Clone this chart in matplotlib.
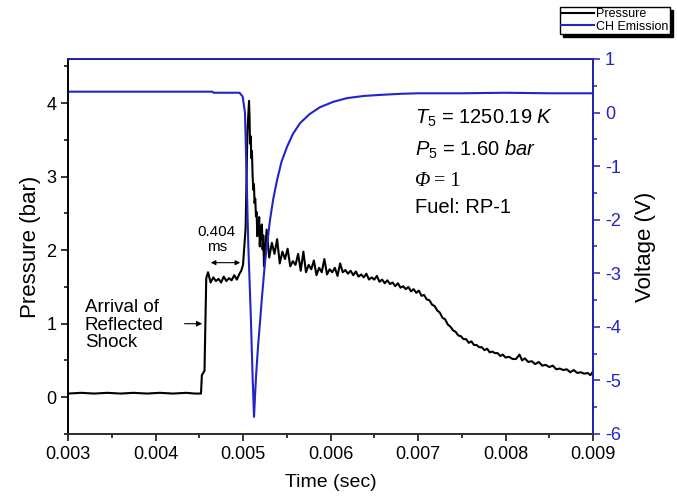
import matplotlib
matplotlib.use('Agg')
import matplotlib.pyplot as plt
from matplotlib.ticker import MultipleLocator

plt.rcParams['font.family'] = 'Liberation Sans'
plt.rcParams['mathtext.fontset'] = 'custom'
plt.rcParams['mathtext.rm'] = 'Liberation Sans'
plt.rcParams['mathtext.it'] = 'Liberation Sans:italic'
plt.rcParams['axes.unicode_minus'] = False

# pressure trace (sec, bar)
t_p = [0.00300, 0.00315, 0.00330, 0.00345, 0.00360, 0.00375, 0.00390, 0.00405,
       0.00420, 0.00435, 0.00445, 0.00452, 0.00453, 0.00456, 0.00457, 0.00458,
       0.00460, 0.00463, 0.00466, 0.00469, 0.00472, 0.00475, 0.00478, 0.00481,
       0.00484, 0.00487, 0.00490, 0.00493, 0.00496, 0.00498, 0.00500, 0.00503,
       0.00505,
       0.005069, 0.005075, 0.005080, 0.005088, 0.005095, 0.005102, 0.005110, 0.005118,
       0.005125, 0.005132, 0.005140, 0.005148, 0.005156, 0.005163, 0.005170, 0.005178,
       0.005185, 0.005192, 0.005200, 0.005208, 0.005216, 0.005224, 0.005232, 0.005240,
       0.005270, 0.005300, 0.005330, 0.005360, 0.005390, 0.005420, 0.005450, 0.005480,
       0.005510, 0.005540, 0.005570, 0.005600, 0.005630, 0.005660, 0.005690, 0.005720,
       0.005750, 0.005780, 0.005810, 0.005840, 0.005870, 0.005900, 0.005930, 0.005960,
       0.005990, 0.006020, 0.006050, 0.006080, 0.006110, 0.006140, 0.006170, 0.006200,
       0.006230, 0.006260, 0.006290, 0.006320, 0.006350, 0.006380, 0.006410, 0.006440,
       0.006470, 0.006500, 0.006530, 0.006560, 0.006590, 0.006620, 0.006650, 0.006680,
       0.006710, 0.006740, 0.006770, 0.006800, 0.006830, 0.006860, 0.006890, 0.006920,
       0.006950, 0.006980, 0.007010, 0.007040, 0.007070, 0.007100, 0.007130, 0.007160,
       0.007190, 0.007220, 0.007250, 0.007280, 0.007310, 0.007340, 0.007370, 0.007400,
       0.007430, 0.007460, 0.007490, 0.007520, 0.007550, 0.007580, 0.007610, 0.007640,
       0.007670, 0.007700, 0.007730, 0.007760, 0.007790, 0.007820, 0.007850, 0.007880,
       0.007910, 0.007940, 0.007970, 0.008000, 0.008040, 0.008080, 0.008120, 0.008160,
       0.008190, 0.008220, 0.008260, 0.008300, 0.008340, 0.008380, 0.008420, 0.008460,
       0.008500, 0.008540, 0.008580, 0.008620, 0.008660, 0.008700, 0.008740, 0.008780,
       0.008820, 0.008860, 0.008900, 0.008940, 0.008970, 0.009000]
pressure = [0.05, 0.06, 0.05, 0.06, 0.05, 0.06, 0.05, 0.06,
            0.05, 0.06, 0.05, 0.05, 0.30, 0.36, 1.00, 1.62,
            1.70, 1.56, 1.63, 1.58, 1.61, 1.56, 1.64, 1.58,
            1.62, 1.59, 1.66, 1.60, 1.68, 1.72, 1.80, 2.30,
            3.60,
            4.03, 3.80, 3.45, 3.55, 3.25, 3.35, 3.00, 2.82,
            2.90, 2.64, 2.70, 2.46, 2.52, 2.19, 2.41, 2.30,
            2.45, 2.05, 2.32, 2.15, 2.35, 2.01, 2.20, 1.78,
            2.28, 1.90, 2.10, 1.95, 2.15, 1.82, 1.98, 1.88,
            2.02, 1.78, 1.85, 1.80, 1.95, 1.72, 1.98, 1.70,
            1.80, 1.74, 1.86, 1.66, 1.76, 1.70, 1.88, 1.67,
            1.74, 1.70, 1.76, 1.65, 1.82, 1.70, 1.73, 1.68,
            1.72, 1.66, 1.71, 1.64, 1.67, 1.63, 1.68, 1.60,
            1.63, 1.60, 1.65, 1.57, 1.60, 1.55, 1.59, 1.54,
            1.56, 1.51, 1.55, 1.49, 1.51, 1.47, 1.50, 1.44,
            1.47, 1.42, 1.45, 1.38, 1.39, 1.33, 1.32, 1.26,
            1.24, 1.18, 1.15, 1.08, 1.06, 0.99, 0.96, 0.91,
            0.89, 0.84, 0.83, 0.79, 0.79, 0.74, 0.76, 0.71,
            0.71, 0.68, 0.68, 0.64, 0.66, 0.61, 0.62, 0.60,
            0.60, 0.56, 0.58, 0.54, 0.55, 0.52, 0.52, 0.58,
            0.50, 0.53, 0.48, 0.49, 0.45, 0.48, 0.43, 0.44,
            0.41, 0.43, 0.38, 0.39, 0.37, 0.38, 0.34, 0.37,
            0.33, 0.34, 0.32, 0.33, 0.30, 0.35]

# CH emission trace (sec, volt)
t_ch = [0.00300, 0.00350, 0.00400, 0.00450, 0.004650, 0.004665, 0.00480, 0.004960,
        0.004996, 0.005023, 0.005042, 0.005061, 0.005088, 0.005111, 0.005126, 0.005137,
        0.005150, 0.005171, 0.005195, 0.005217, 0.005235, 0.005251, 0.005280, 0.005309,
        0.005345, 0.005389, 0.005440, 0.005503, 0.005570, 0.005651, 0.005760, 0.005880,
        0.006030, 0.006189, 0.006380, 0.006566, 0.00680, 0.00700, 0.00750, 0.00800,
        0.00850, 0.00900]
voltage = [0.39, 0.39, 0.39, 0.39, 0.39, 0.37, 0.37, 0.37,
           0.30, -0.01, -1.26, -2.50, -3.74, -4.99, -5.68, -5.30,
           -4.90, -4.38, -3.90, -3.44, -3.10, -2.80, -2.40, -2.00,
           -1.62, -1.26, -0.92, -0.64, -0.40, -0.20, -0.03, 0.10,
           0.20, 0.27, 0.31, 0.33, 0.35, 0.36, 0.36, 0.37,
           0.36, 0.36]

blue = '#2323c8'

fig = plt.figure(figsize=(6.77, 4.98), dpi=100)
ax = fig.add_axes([68/677, 1 - 434/498, 525/677, 375/498])
ax2 = ax.twinx()

l1, = ax.plot(t_p, pressure, color='black', lw=1.5, label='Pressure')
l2, = ax2.plot(t_ch, voltage, color=blue, lw=1.5, label='CH Emission')

ax.set_xlim(0.003, 0.009)
ax.set_ylim(-0.5, 4.6)
ax2.set_ylim(-6, 1)

ax.xaxis.set_major_locator(MultipleLocator(0.001))
ax.xaxis.set_minor_locator(MultipleLocator(0.0005))
ax.yaxis.set_major_locator(MultipleLocator(1))
ax.yaxis.set_minor_locator(MultipleLocator(0.5))
ax2.yaxis.set_major_locator(MultipleLocator(1))
ax2.yaxis.set_minor_locator(MultipleLocator(0.5))
ax.set_xticks([0.003, 0.004, 0.005, 0.006, 0.007, 0.008, 0.009])
ax.set_xticklabels(['0.003', '0.004', '0.005', '0.006', '0.007', '0.008', '0.009'])

ax.tick_params(which='major', direction='out', length=5, width=1.1, labelsize=13)
ax.tick_params(which='minor', direction='out', length=3, width=1.1)
ax2.tick_params(which='major', direction='out', length=5, width=1.1, labelsize=13,
                colors=blue)
ax2.tick_params(which='minor', direction='out', length=3, width=1.1, colors=blue)

for s in ax.spines.values():
    s.set_linewidth(1.2)
for s in ax2.spines.values():
    s.set_linewidth(1.2)
ax2.spines['right'].set_color(blue)
ax2.spines['top'].set_color(blue)
ax2.spines['left'].set_color('black')
ax2.spines['bottom'].set_color('#333333')

ax.set_xlabel('Time (sec)', fontsize=14, labelpad=8)
ax.set_ylabel('Pressure (bar)', fontsize=16, labelpad=4)
ax2.set_ylabel('Voltage (V)', fontsize=16, labelpad=10, color='black')

# conditions text
ax.text(0.661, 0.843, r'$T_5$ = 1250.19 $K$', transform=ax.transAxes,
        fontsize=14.5, va='center')
ax.text(0.661, 0.757, r'$P_5$ = 1.60 $bar$', transform=ax.transAxes,
        fontsize=14.5, va='center')
ax.text(0.661, 0.672, '\u03a6', transform=ax.transAxes, fontsize=14.5,
        va='center', family='Liberation Serif', style='italic')
ax.text(0.697, 0.672, '= 1', transform=ax.transAxes, fontsize=14.5,
        va='center', family='Liberation Serif')
ax.text(0.661, 0.603, 'Fuel: RP-1', transform=ax.transAxes,
        fontsize=14.5, va='center')

# reflected shock arrow
ax.text(0.00319, 0.98, 'Arrival of\nReflected\nShock', fontsize=13.5,
        va='center', ha='left', linespacing=1.05)
ax.annotate('', xy=(0.004565, 1.0), xytext=(0.00430, 1.0),
            arrowprops=dict(arrowstyle='-|>', color='black', lw=0.8,
                            mutation_scale=8))

# ignition delay
ax.text(0.00470, 2.15, '0.404\nms', fontsize=11, ha='center', va='center',
        linespacing=1.1)
ax.annotate('', xy=(0.00500, 1.83), xytext=(0.00460, 1.83),
            arrowprops=dict(arrowstyle='<|-|>', color='black', lw=0.8,
                            mutation_scale=7))

fig.legend(handles=[l1, l2], loc='upper left',
           bbox_to_anchor=(560/677, 1 - 7/498), fontsize=9,
           frameon=True, fancybox=False, edgecolor='black',
           shadow={'color': 'black', 'alpha': 1},
           handlelength=2.6, borderpad=0.1, labelspacing=0.05,
           handletextpad=0.2, borderaxespad=0)

fig.savefig('out.png', dpi=100)
